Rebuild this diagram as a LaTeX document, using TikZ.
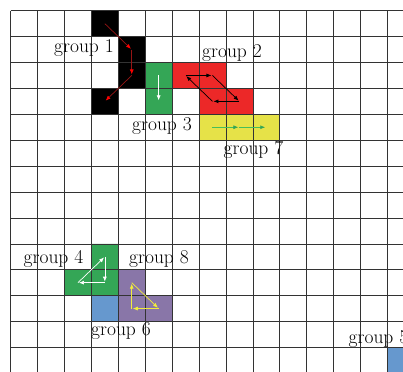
\documentclass[tikz,border=0pt]{standalone}
\usetikzlibrary{arrows.meta}
\definecolor{cgreen}{RGB}{52,166,86}
\definecolor{cred}{RGB}{236,40,40}
\definecolor{cyellow}{RGB}{230,226,72}
\definecolor{cblue}{RGB}{102,152,206}
\definecolor{cpurple}{RGB}{137,118,168}
\definecolor{darr}{RGB}{150,20,20}
\definecolor{garr}{RGB}{70,190,90}
\definecolor{yarr}{RGB}{240,236,60}
\tikzset{
  gridline/.style={draw=black!80, line width=0.6pt},
  lbl/.style={anchor=base west, inner sep=0pt, font=\fontsize{19.5}{22}\selectfont},
  arr/.style={line width=0.7pt, shorten >=1pt, -{Latex[length=5pt,width=4pt]}},
  redarr/.style={arr, draw=darr, -{Latex[length=5pt,width=4pt,color=red]}},
  blackarr/.style={arr, draw=black},
  whitearr/.style={arr, draw=white},
  greenarr/.style={arr, draw=garr, -{Latex[length=5pt,width=4pt,color=cgreen]}},
  yellowarr/.style={arr, draw=yarr},
}
\begin{document}
\begin{tikzpicture}[x=1pt,y=-1pt]
\useasboundingbox (0,0) rectangle (403,371);
\clip (0,0) rectangle (403,371);
\begin{scope}[shift={(10.7,10.7)}, x=26.9pt, y=-25.9pt]
  % cells
  \fill[black] (3,0) rectangle (4,1) (4,1) rectangle (5,3) (3,3) rectangle (4,4);
  \fill[cgreen] (5,2) rectangle (6,4);
  \fill[cred] (6,2) rectangle (8,3) (7,3) rectangle (9,4);
  \fill[cyellow] (7,4) rectangle (10,5);
  \fill[cgreen] (3,9) rectangle (4,10) (2,10) rectangle (4,11);
  \fill[cblue] (3,11) rectangle (4,12);
  \fill[cpurple] (4,10) rectangle (5,11) (4,11) rectangle (6,12);
  \fill[cblue] (14,13) rectangle (15,14);
  % grid
  \foreach \i in {0,...,15} \draw[gridline] (\i,0) -- (\i,14);
  \foreach \j in {0,...,14} \draw[gridline] (0,\j) -- (15,\j);
  % centres
  \coordinate (a1) at (3.5,0.5);
  \coordinate (a2) at (4.5,1.5);
  \coordinate (a3) at (4.5,2.5);
  \coordinate (a4) at (3.5,3.5);
  \coordinate (b1) at (6.5,2.5);
  \coordinate (b2) at (7.5,2.5);
  \coordinate (b3) at (8.5,3.5);
  \coordinate (b4) at (7.5,3.5);
  \coordinate (c1) at (5.5,2.5);
  \coordinate (c2) at (5.5,3.5);
  \coordinate (d1) at (7.5,4.5);
  \coordinate (d2) at (8.5,4.5);
  \coordinate (d3) at (9.5,4.5);
  \coordinate (e1) at (3.5,9.5);
  \coordinate (e2) at (3.5,10.5);
  \coordinate (e3) at (2.5,10.5);
  \coordinate (f1) at (4.5,10.5);
  \coordinate (f2) at (5.5,11.5);
  \coordinate (f3) at (4.5,11.5);
\end{scope}
% labels
\node[lbl] (l1) at (54,52.5) {group 1};
\node[lbl] (l2) at (202,58) {group 2};
\node[lbl] (l3) at (132,130.5) {group 3};
\node[lbl] (l7) at (223.5,154) {group 7};
\node[lbl] (l4) at (23.5,263) {group 4};
\node[lbl] (l8) at (129,263) {group 8};
\node[lbl] (l6) at (91,335.5) {group 6};
\node[lbl] (l5) at (348.5,343) {group 5};
% arrows
\draw[redarr] (a1) -- (a2);
\draw[redarr] (a2) -- (a3);
\draw[redarr] (a3) -- (a4);
\draw[blackarr] (b1) -- (b2);
\draw[blackarr] (b2) -- (b3);
\draw[blackarr] (b3) -- (b4);
\draw[blackarr] (b4) -- (b1);
\draw[whitearr] (c1) -- (c2);
\draw[greenarr] (d1) -- (d2);
\draw[greenarr] (d2) -- (d3);
\draw[whitearr] (e1) -- (e2);
\draw[whitearr] (e2) -- (e3);
\draw[whitearr] (e3) -- (e1);
\draw[yellowarr] (f1) -- (f2);
\draw[yellowarr] (f2) -- (f3);
\draw[yellowarr] (f3) -- (f1);
\end{tikzpicture}
\end{document}
